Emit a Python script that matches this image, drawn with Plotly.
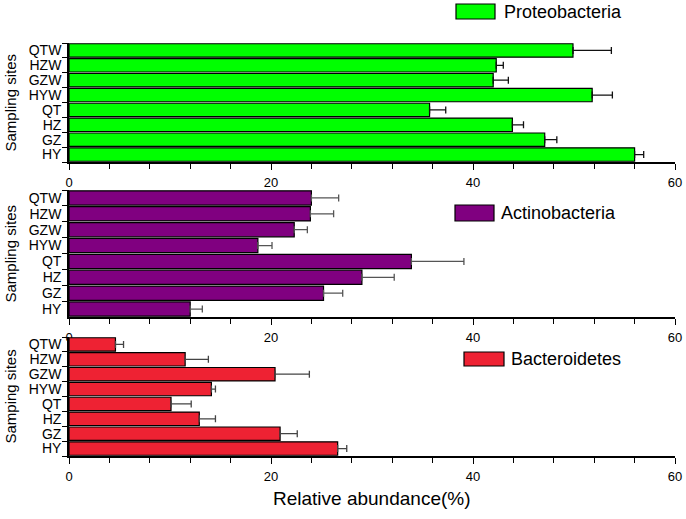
import plotly.graph_objects as go

# Sites listed bottom -> top
sites = ["HY", "GZ", "HZ", "QT", "HYW", "GZW", "HZW", "QTW"]

proteo = [56.0, 47.1, 43.9, 35.7, 51.8, 42.0, 42.3, 49.9]
proteo_err = [0.9, 1.2, 1.1, 1.6, 2.0, 1.5, 0.7, 3.8]

actino = [12.0, 25.2, 29.0, 33.9, 18.7, 22.3, 23.9, 24.0]
actino_err = [1.2, 1.9, 3.2, 5.2, 1.4, 1.3, 2.3, 2.7]

bactero = [26.6, 20.9, 12.9, 10.1, 14.1, 20.4, 11.5, 4.6]
bactero_err = [0.9, 1.7, 1.6, 2.0, 0.4, 3.4, 2.3, 0.8]

phyla = ["Proteobacteria", "Actinobacteria", "Bacteroidetes"]
colors = ["#00FF00", "#800080", "#EE2233"]
err_colors = ["#111111", "#555555", "#444444"]
ytitles = ["Sampling sites", "Sampling sites", "Samping sites"]
xtitle = "Relative abundance(%)"
xticks = [0, 20, 40, 60]

FONT = "Liberation Sans, Arial, sans-serif"
W, H = 686, 519
ML, MR, MT, MB = 69, 11, 43, 63
PW = W - ML - MR
PH = H - MT - MB


def py(p):
    return (H - MB - p) / PH


def px(p):
    return (p - ML) / PW


domains = [[py(162), py(43)], [py(317), py(190)], [py(456), py(337)]]

fig = go.Figure()
series = [(proteo, proteo_err), (actino, actino_err), (bactero, bactero_err)]
for i, (vals, errs) in enumerate(series):
    k = "" if i == 0 else str(i + 1)
    fig.add_trace(go.Bar(
        x=vals, y=sites, orientation="h",
        marker=dict(color=colors[i], line=dict(color="#000000", width=1.2)),
        error_x=dict(type="data", symmetric=False, array=errs,
                     arrayminus=[0] * len(errs), color=err_colors[i],
                     thickness=1.3, width=3.5),
        xaxis="x" + k, yaxis="y" + k, showlegend=False, name=phyla[i],
    ))

layout = dict(
    width=W, height=H,
    margin=dict(l=ML, r=MR, t=MT, b=MB, autoexpand=False),
    paper_bgcolor="white", plot_bgcolor="white",
    font=dict(family=FONT, size=14, color="#000000"),
    bargap=0.1,
    showlegend=False,
)

for i in range(3):
    k = "" if i == 0 else str(i + 1)
    layout["xaxis" + k] = dict(
        range=[0, 60], domain=[0, 1], anchor="y" + k,
        tickmode="array", tickvals=xticks, ticktext=[str(t) for t in xticks],
        ticks="outside", ticklen=6, tickwidth=1.3, tickcolor="#000000",
        minor=dict(dtick=4, tick0=0, ticks="outside", ticklen=5, tickwidth=1.3,
                   tickcolor="#000000", showgrid=False),
        showline=True, linecolor="#000000", linewidth=1.6,
        showgrid=False, zeroline=False, ticklabelstandoff=2,
        automargin=False,
        tickfont=dict(size=13, family=FONT),
    )
    layout["yaxis" + k] = dict(
        domain=domains[i], anchor="x" + k,
        type="category", categoryorder="array", categoryarray=sites,
        range=[-0.5, 7.5], tickmode="linear", tick0=0, dtick=1,
        ticks="outside", tickson="boundaries", ticklen=5, tickwidth=1.3,
        tickcolor="#000000",
        showline=True, linecolor="#000000", linewidth=1.6,
        showgrid=False, zeroline=False, automargin=False,
        ticklabelstandoff=3,
        tickfont=dict(size=14, family=FONT),
    )

fig.update_layout(**layout)

# y-axis titles
for i in range(3):
    fig.add_annotation(
        text=ytitles[i], xref="paper", yref="paper",
        x=0, y=sum(domains[i]) / 2, xanchor="center", yanchor="middle",
        xshift=-(ML - 10), textangle=-90, showarrow=False,
        font=dict(size=15, family=FONT),
    )

# x-axis title
fig.add_annotation(
    text=xtitle, xref="paper", yref="paper", x=px(372), y=py(498),
    xanchor="center", yanchor="middle", showarrow=False,
    font=dict(size=19, family=FONT),
)

# legend boxes (one per panel)
leg = [  # box x0, x1, y0, y1, text x, text y
    (456, 495, 4, 19, 502, 12),
    (455, 494, 205, 221, 499, 213),
    (464, 504, 352, 366, 509, 359),
]
for i, (x0, x1, y0, y1, tx, ty) in enumerate(leg):
    fig.add_shape(type="rect", xref="paper", yref="paper",
                  x0=px(x0), x1=px(x1), y0=py(y1), y1=py(y0),
                  fillcolor=colors[i], line=dict(color="#000000", width=1.2))
    fig.add_annotation(text=phyla[i], xref="paper", yref="paper",
                       x=px(tx), y=py(ty), xanchor="left", yanchor="middle",
                       showarrow=False, font=dict(size=18, family=FONT))

fig.write_html(
    "out.html",
    config={"displayModeBar": False},
    post_script="document.body.style.margin='0';document.body.style.overflow='hidden';",
)
